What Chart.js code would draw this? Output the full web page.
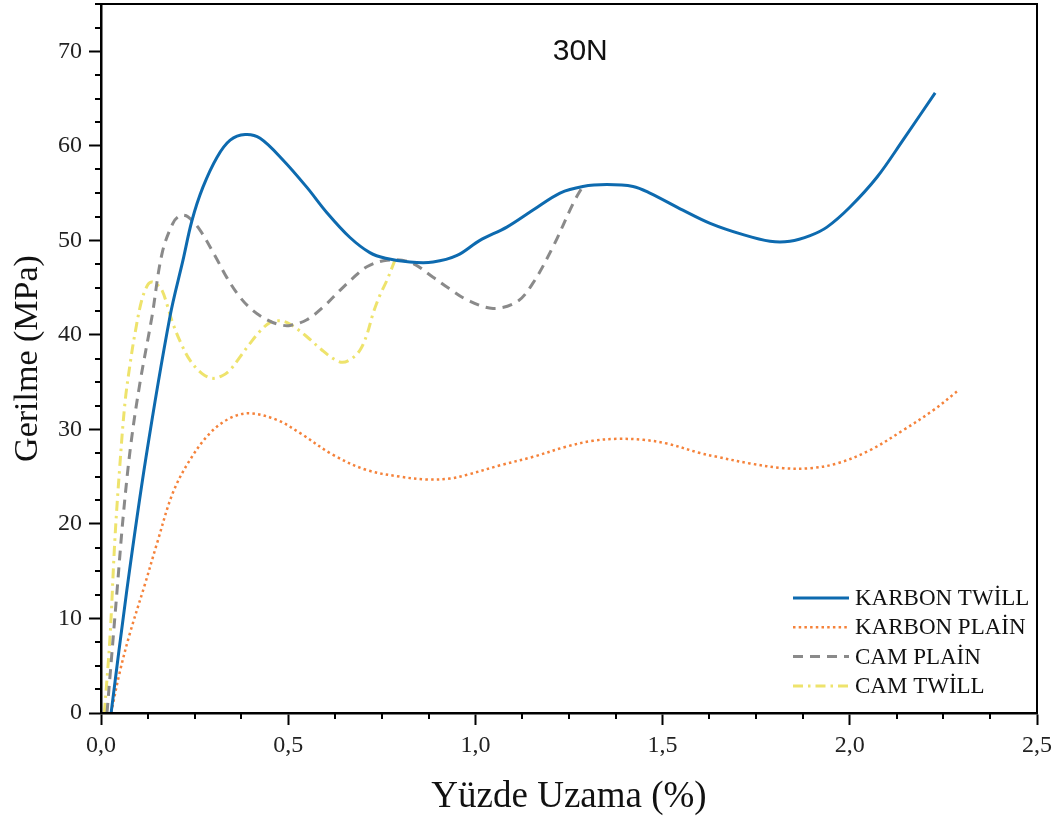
<!DOCTYPE html>
<html lang="tr">
<head>
<meta charset="UTF-8">
<title>30N Gerilme - Yüzde Uzama</title>
<script src="https://cdn.jsdelivr.net/npm/chart.js"></script>
<style>
  html, body { margin: 0; padding: 0; background: #fff; }
</style>
</head>
<body>
<canvas id="myChart" width="1062" height="823"></canvas>
<script>
// values: x = Yüzde Uzama (%), y = Gerilme (MPa)
const seriesNames = ['KARBON TWİLL', 'KARBON PLAİN', 'CAM PLAİN', 'CAM TWİLL'];

const karbonTwillX = [0.027, 0.069, 0.12, 0.184, 0.219, 0.243, 0.272, 0.31, 0.345, 0.385, 0.425, 0.486, 0.55, 0.604, 0.665, 0.718, 0.76, 0.825, 0.887, 0.951, 1.012, 1.084, 1.154, 1.226, 1.287, 1.351, 1.421, 1.466, 1.554, 1.627, 1.715, 1.787, 1.84, 1.894, 1.939, 2.0, 2.073, 2.142, 2.228];
const karbonTwillY = [0, 13, 27, 41.9, 47.9, 52.1, 55.6, 58.8, 60.6, 61.2, 60.8, 58.5, 55.6, 52.9, 50.3, 48.7, 48.1, 47.7, 47.7, 48.4, 50.0, 51.4, 53.2, 55.0, 55.7, 55.9, 55.7, 55.0, 53.2, 51.8, 50.6, 49.9, 49.9, 50.5, 51.4, 53.5, 56.7, 60.6, 65.6];

const karbonPlainX = [0.027, 0.05, 0.077, 0.118, 0.15, 0.192, 0.238, 0.291, 0.345, 0.398, 0.47, 0.532, 0.62, 0.71, 0.799, 0.871, 0.932, 0.978, 1.066, 1.154, 1.245, 1.314, 1.378, 1.448, 1.512, 1.6, 1.645, 1.733, 1.822, 1.894, 1.966, 2.054, 2.142, 2.222, 2.286];
const karbonPlainY = [0, 4.3, 8.4, 13.7, 18.0, 23.3, 26.8, 29.6, 31.2, 31.7, 31.0, 29.6, 27.3, 25.7, 25.0, 24.7, 24.8, 25.2, 26.2, 27.1, 28.2, 28.8, 29.0, 28.9, 28.5, 27.5, 27.1, 26.4, 25.9, 25.9, 26.4, 27.8, 29.9, 32.0, 34.0];

const camPlainX = [0.016, 0.043, 0.06, 0.08, 0.104, 0.136, 0.163, 0.192, 0.211, 0.232, 0.264, 0.304, 0.337, 0.371, 0.405, 0.443, 0.475, 0.505, 0.55, 0.595, 0.638, 0.67, 0.71, 0.764, 0.825, 0.887, 0.93, 0.978, 1.047, 1.111, 1.154, 1.207, 1.261, 1.285];
const camPlainY = [0, 13, 21.1, 28.5, 34.9, 41.9, 48.6, 51.8, 52.6, 52.5, 51.1, 48.4, 46.0, 44.0, 42.6, 41.6, 41.1, 41.0, 41.6, 43.0, 44.7, 45.9, 47.2, 47.9, 47.7, 46.1, 44.9, 43.7, 42.8, 43.5, 45.5, 49.3, 53.9, 55.6];

const camTwillX = [0.009, 0.024, 0.037, 0.05, 0.064, 0.078, 0.091, 0.109, 0.125, 0.136, 0.15, 0.163, 0.178, 0.192, 0.215, 0.238, 0.27, 0.299, 0.325, 0.345, 0.37, 0.398, 0.425, 0.451, 0.475, 0.497, 0.525, 0.55, 0.59, 0.62, 0.645, 0.67, 0.692, 0.71, 0.727, 0.745, 0.764, 0.785];
const camTwillY = [0, 8, 18.3, 26, 32.8, 37, 40.2, 43.7, 45.3, 45.6, 45.3, 44.7, 43.0, 41.2, 39.0, 37.3, 35.9, 35.4, 35.7, 36.3, 37.6, 39.1, 40.4, 41.3, 41.5, 41.3, 40.6, 39.8, 38.4, 37.5, 37.1, 37.5, 38.4, 40.0, 42.3, 44.2, 45.8, 47.9];

const xTickLabels = ['0,0', '0,5', '1,0', '1,5', '2,0', '2,5'];
const yTickLabels = ['0', '10', '20', '30', '40', '50', '60', '70'];
const panelLabel = '30N';
const panelLabelAt = [1.28, 70];

const serif = "'Liberation Serif', 'Times New Roman', serif";
const pts = (xs, ys) => xs.map((x, i) => ({ x: x, y: ys[i] }));

// box, minor ticks, panel label and legend
const extras = {
    id: 'extras',
    afterDraw(chart) {
        const { ctx, chartArea: a, scales: { x, y } } = chart;
        ctx.save();
        ctx.strokeStyle = '#000';
        ctx.lineWidth = 2;
        ctx.strokeRect(a.left, a.top, a.right - a.left, a.bottom - a.top);

        ctx.beginPath();
        for (let k = 1; k < 20; k++) {
            if (k % 4 === 0) continue;
            const px = Math.round(x.getPixelForValue(k * 0.125));
            ctx.moveTo(px, a.bottom);
            ctx.lineTo(px, a.bottom + 6);
        }
        for (let k = 1; k <= 30; k++) {
            if (k % 4 === 0) continue;
            const py = Math.round(y.getPixelForValue(k * 2.5));
            ctx.moveTo(a.left, py);
            ctx.lineTo(a.left - 6, py);
        }
        ctx.stroke();

        ctx.fillStyle = '#111';
        ctx.font = "30px 'Liberation Sans', Arial, sans-serif";
        ctx.textAlign = 'center';
        ctx.textBaseline = 'middle';
        ctx.fillText(panelLabel, x.getPixelForValue(panelLabelAt[0]), y.getPixelForValue(panelLabelAt[1]));

        // legend, bottom right inside the frame
        ctx.textAlign = 'left';
        ctx.font = '23px ' + serif;
        chart.data.datasets.forEach((ds, i) => {
            const ly = 598 + i * 29.3;
            ctx.beginPath();
            ctx.setLineDash(ds.borderDash || []);
            ctx.strokeStyle = ds.borderColor;
            ctx.lineWidth = ds.borderWidth;
            ctx.moveTo(793, ly);
            ctx.lineTo(849, ly);
            ctx.stroke();
            ctx.setLineDash([]);
            ctx.fillStyle = '#111';
            ctx.fillText(ds.label, 855, ly + 1);
        });
        ctx.restore();
    }
};

const ctx = document.getElementById('myChart').getContext('2d');
const myChart = new Chart(ctx, {
    type: 'line',
    data: {
        datasets: [
            { label: seriesNames[0], data: pts(karbonTwillX, karbonTwillY), borderColor: '#0d6aaf', borderWidth: 3 },
            { label: seriesNames[1], data: pts(karbonPlainX, karbonPlainY), borderColor: '#f5823a', borderWidth: 2.5, borderDash: [2.5, 3.2] },
            { label: seriesNames[2], data: pts(camPlainX, camPlainY), borderColor: '#8a8a8a', borderWidth: 3, borderDash: [10, 7] },
            { label: seriesNames[3], data: pts(camTwillX, camTwillY), borderColor: '#eee36c', borderWidth: 3, borderDash: [10, 5, 2.5, 5] }
        ]
    },
    options: {
        responsive: false,
        animation: false,
        layout: { padding: { top: 4, right: 25, left: 0, bottom: 0 } },
        elements: {
            point: { radius: 0 },
            line: { tension: 0.35, fill: false }
        },
        scales: {
            x: {
                type: 'linear',
                min: 0,
                max: 2.5,
                afterFit: s => { s.height = 110; s.paddingLeft = 0; s.paddingRight = 0; },
                border: { color: '#000', width: 2.5 },
                grid: { drawOnChartArea: false, tickLength: 12, tickWidth: 2, tickColor: '#000' },
                ticks: {
                    stepSize: 0.5,
                    padding: 6,
                    color: '#222',
                    font: { family: serif, size: 24 },
                    maxRotation: 0,
                    callback: v => xTickLabels[Math.round(v / 0.5)]
                },
                title: {
                    display: true,
                    text: 'Yüzde Uzama (%)',
                    color: '#111',
                    font: { family: serif, size: 37 },
                    padding: { top: 0, bottom: 4 }
                }
            },
            y: {
                min: 0,
                max: 75,
                afterFit: s => { s.width = 101; s.paddingTop = 0; s.paddingBottom = 0; },
                afterBuildTicks: s => { s.ticks = s.ticks.filter(t => t.value % 10 === 0); },
                border: { color: '#000', width: 2.5 },
                grid: { drawOnChartArea: false, tickLength: 12, tickWidth: 2, tickColor: '#000' },
                ticks: {
                    stepSize: 10,
                    padding: 7,
                    color: '#222',
                    font: { family: serif, size: 24 },
                    callback: v => yTickLabels[Math.round(v / 10)]
                },
                title: {
                    display: true,
                    text: 'Gerilme (MPa)',
                    color: '#111',
                    font: { family: serif, size: 34 },
                    padding: { top: 8, bottom: 0 }
                }
            }
        },
        plugins: {
            legend: { display: false },
            tooltip: { enabled: false }
        }
    },
    plugins: [extras]
});
</script>
</body>
</html>
